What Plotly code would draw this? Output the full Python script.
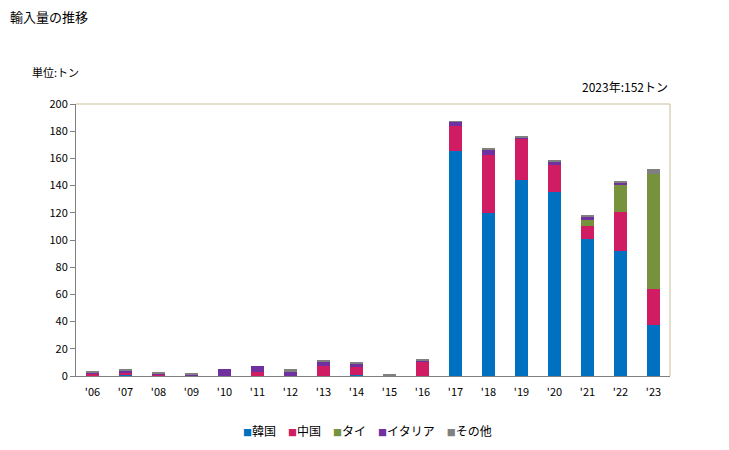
import plotly.graph_objects as go

years = ["'06", "'07", "'08", "'09", "'10", "'11", "'12", "'13", "'14", "'15", "'16",
         "'17", "'18", "'19", "'20", "'21", "'22", "'23"]
korea = [0, 1.2, 0, 0, 0, 0, 0, 0, 1.1, 0, 0, 165.5, 119.5, 144.4, 135.6, 100.9, 92.1, 37.8]
china = [2.0, 1.2, 1.2, 0, 0, 3.3, 0, 7.7, 5.4, 0, 10.4, 18.6, 43.1, 29.9, 19.6, 9.6, 28.6, 26.4]
thai = [0, 0, 0, 0, 0, 0, 0, 0, 0, 0, 0, 0, 0, 0, 0, 4.4, 19.9, 84.4]
italy = [0.5, 1.5, 0.7, 1.0, 5.5, 4.4, 2.6, 3.2, 2.7, 0, 1.0, 2.7, 3.6, 0.7, 2.2, 2.2, 1.4, 0]
other = [0.5, 0.6, 0.5, 0.6, 0, 0, 2.2, 0.7, 0.7, 1.0, 0.7, 0.7, 0.8, 0.8, 0.8, 0.7, 1.0, 3.4]

series = [
    ("韓国", korea, "#0070C0"),
    ("中国", china, "#D01C62"),
    ("タイ", thai, "#76923C"),
    ("イタリア", italy, "#7030A0"),
    ("その他", other, "#808080"),
]

font_family = "Noto Sans CJK JP"

fig = go.Figure()
for name, vals, color in series:
    fig.add_trace(go.Bar(x=years, y=vals, name=name, marker=dict(color=color, line=dict(width=0))))

legend_text = "　".join(
    f"<span style='color:{color};font-size:9px'>■</span>{name}" for name, _, color in series
)

fig.update_layout(
    width=729, height=450,
    barmode="stack",
    bargap=0.6,
    plot_bgcolor="white",
    paper_bgcolor="white",
    margin=dict(l=76, r=59, t=104, b=74, autoexpand=False),
    font=dict(family=font_family, size=12, color="#000000"),
    showlegend=False,
    xaxis=dict(showgrid=False, showline=True, linecolor="#808080", linewidth=1,
               ticks="", tickfont=dict(size=11), zeroline=False, ticklabelstandoff=6),
    yaxis=dict(range=[0, 200], dtick=20, showgrid=False, showline=True, linecolor="#808080",
               linewidth=1, ticks="outside", ticklen=5, tickcolor="#808080",
               tickfont=dict(size=11), zeroline=False),
    annotations=[
        dict(text="輸入量の推移", xref="paper", x=-0.1145, xanchor="left", yref="paper", y=1.364,
             yanchor="top", showarrow=False, font=dict(size=13)),
        dict(text="単位:トン", xref="paper", x=-0.0774, xanchor="left", yref="paper", y=1.1176,
             yanchor="middle", showarrow=False, font=dict(size=11)),
        dict(text="2023年:152トン", xref="paper", x=1, xanchor="right", yref="paper", y=1.066,
             yanchor="middle", showarrow=False, font=dict(size=12)),
        dict(text=legend_text, xref="paper", x=0.49, xanchor="center", yref="paper", y=-0.2,
             yanchor="middle", showarrow=False, font=dict(size=12)),
    ],
    shapes=[
        dict(type="line", xref="paper", yref="paper", x0=0, x1=1, y0=1, y1=1,
             line=dict(color="#C8BF9A", width=1)),
        dict(type="line", xref="paper", yref="paper", x0=1, x1=1, y0=0, y1=1,
             line=dict(color="#C8BF9A", width=1)),
    ],
)

fig.write_html("out.html")
